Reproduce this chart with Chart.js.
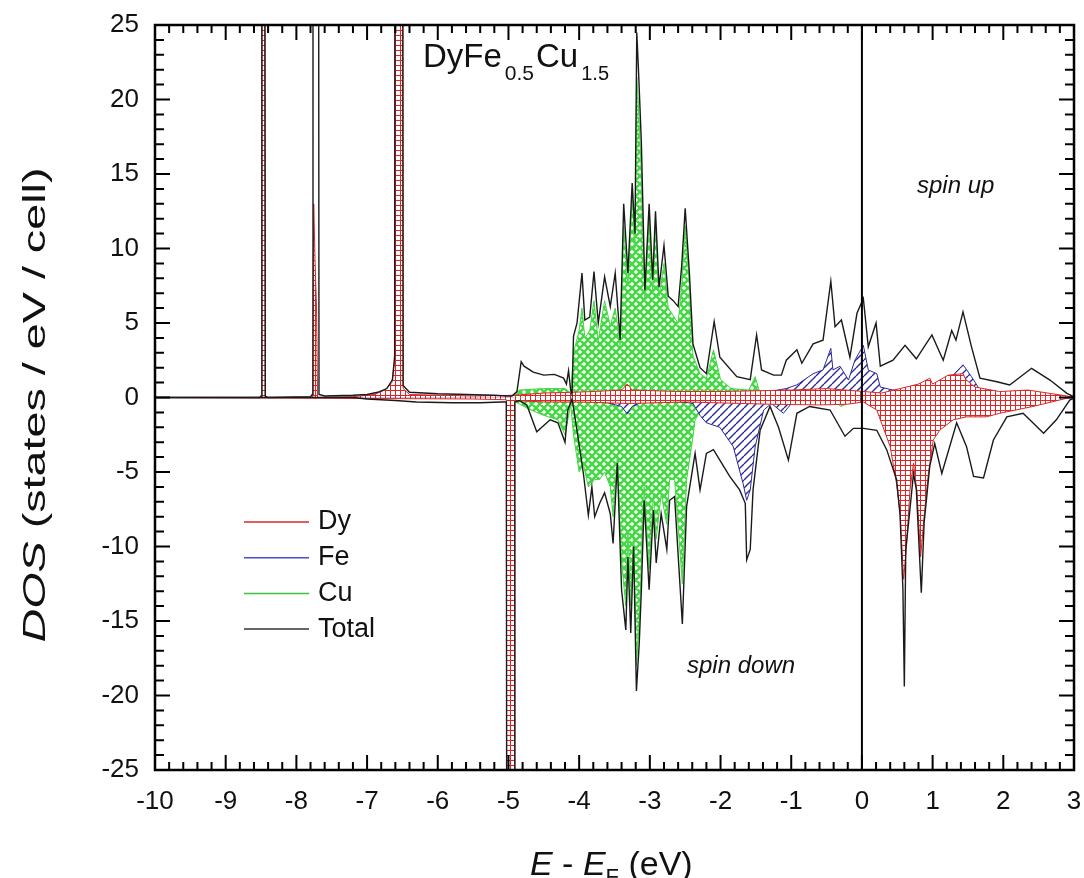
<!DOCTYPE html>
<html>
<head>
<meta charset="utf-8">
<title>DOS DyFe0.5Cu1.5</title>
<script src="https://cdn.jsdelivr.net/npm/chart.js@4.4.0/dist/chart.umd.min.js"></script>
<style>
  html, body { margin: 0; padding: 0; background: #fff; }
</style>
</head>
<body>
<canvas id="dosChart" width="1084" height="878"></canvas>
<script>
// axis ticks
const xTickValues = [-10, -9, -8, -7, -6, -5, -4, -3, -2, -1, 0, 1, 2, 3];
const yTickValues = [-25, -20, -15, -10, -5, 0, 5, 10, 15, 20, 25];

// [energy (eV), DOS]; spikes past the frame just run off the top/bottom
const totalUp = [
  [-10, 0], [-8.52, 0], [-8.50, 0.1], [-8.488, 60], [-8.452, 60], [-8.44, 0.1], [-8.40, 0],
  [-7.80, 0.05], [-7.775, 0.2], [-7.765, 60], [-7.69, 60], [-7.68, 0.2], [-7.6, 0.1],
  [-7.2, 0.15], [-7.0, 0.2], [-6.85, 0.35], [-6.72, 0.6], [-6.64, 1.2], [-6.61, 2.8], [-6.60, 60], [-6.50, 60],
  [-6.49, 0.8], [-6.4, 0.35], [-6.0, 0.25], [-5.6, 0.2], [-5.2, 0.15], [-5.03, 0.1], [-4.95, 0.1],
  [-4.88, 0.4], [-4.82, 2.4], [-4.78, 2.1], [-4.65, 1.7], [-4.5, 1.5], [-4.35, 1.55], [-4.22, 1.3],
  [-4.18, 0.9], [-4.15, 1.8], [-4.12, 0.5], [-4.10, 0.2],
  [-4.08, 4.1], [-4.03, 5.0], [-3.96, 8.35], [-3.92, 5.2], [-3.85, 5.4], [-3.79, 8.45], [-3.73, 5.0],
  [-3.64, 8.1], [-3.56, 6.1], [-3.49, 8.35], [-3.42, 3.86], [-3.37, 13.0], [-3.31, 8.35], [-3.25, 14.4],
  [-3.21, 11.0], [-3.185, 24.5], [-3.16, 21.9], [-3.12, 17.1], [-3.07, 7.2], [-3.01, 13.0], [-2.96, 7.9],
  [-2.92, 12.5], [-2.87, 7.4], [-2.80, 10.2], [-2.74, 6.8], [-2.67, 6.5], [-2.60, 6.1], [-2.55, 8.8],
  [-2.50, 12.7], [-2.44, 8.3], [-2.39, 3.6], [-2.29, 2.0], [-2.20, 1.6], [-2.09, 5.1], [-2.01, 2.7],
  [-1.77, 1.4], [-1.58, 1.2], [-1.49, 4.2], [-1.42, 1.85], [-1.25, 1.5], [-1.14, 1.5], [-1.07, 2.5],
  [-0.92, 3.2], [-0.85, 2.3], [-0.69, 3.6], [-0.55, 3.85], [-0.44, 7.8], [-0.38, 4.75], [-0.29, 5.2],
  [-0.17, 2.7], [-0.07, 5.65], [0.02, 6.65], [0.09, 3.4], [0.20, 5.0], [0.26, 2.1], [0.44, 2.5],
  [0.61, 3.5], [0.77, 2.6], [0.99, 4.2], [1.15, 2.5], [1.27, 4.5], [1.33, 3.85], [1.43, 5.75],
  [1.55, 3.4], [1.67, 1.3], [1.91, 1.06], [2.09, 0.84], [2.40, 1.96], [2.66, 1.17], [2.90, 0.28], [3.0, 0.05]
];
const totalDown = [
  [-10, 0], [-7.2, 0], [-7.0, -0.1], [-6.6, -0.2], [-6.3, -0.3], [-5.8, -0.35], [-5.4, -0.35], [-5.1, -0.3],
  [-5.03, -0.3], [-5.02, -60], [-4.92, -60], [-4.91, -0.3], [-4.85, -0.2], [-4.74, -0.5], [-4.6, -2.3],
  [-4.41, -1.5], [-4.3, -1.7], [-4.2, -3.0], [-4.16, -0.84], [-4.1, -0.1], [-4.01, -2.85], [-3.94, -5.1],
  [-3.87, -7.9], [-3.82, -6.0], [-3.78, -8.0], [-3.71, -7.1], [-3.64, -6.4], [-3.56, -7.8], [-3.52, -9.8],
  [-3.46, -4.4], [-3.40, -12.9], [-3.34, -15.6], [-3.31, -10.7], [-3.27, -15.8], [-3.23, -10.0],
  [-3.19, -19.7], [-3.15, -16.5], [-3.12, -12.9], [-3.08, -6.9], [-3.01, -12.9], [-2.95, -7.55],
  [-2.91, -11.1], [-2.84, -7.8], [-2.76, -10.2], [-2.72, -6.9], [-2.65, -6.65], [-2.54, -15.2],
  [-2.48, -7.3], [-2.36, -3.75], [-2.29, -6.2], [-2.2, -3.75], [-2.1, -3.5], [-2.01, -4.2], [-1.87, -5.3],
  [-1.73, -6.2], [-1.65, -7.1], [-1.63, -10.9], [-1.58, -10.2], [-1.54, -6.2], [-1.44, -2.2], [-1.30, -0.6],
  [-1.18, -2.0], [-1.04, -4.2], [-0.92, -1.06], [-0.74, -0.6], [-0.45, -0.84], [-0.24, -2.6], [-0.12, -2.07],
  [0.02, -2.07], [0.21, -2.2], [0.35, -3.5], [0.49, -5.5], [0.54, -7.9], [0.58, -12.9], [0.60, -19.4],
  [0.62, -10.2], [0.66, -8.4], [0.73, -5.1], [0.77, -6.2], [0.84, -13.1], [0.88, -8.4], [0.96, -4.6],
  [1.03, -3.1], [1.13, -5.1], [1.34, -1.7], [1.48, -3.3], [1.58, -5.3], [1.72, -5.4], [1.86, -2.85],
  [2.05, -1.3], [2.28, -1.06], [2.57, -2.4], [2.75, -1.5], [2.94, -0.17], [3.0, -0.05]
];
const dyUp = [
  [-10, 0], [-8.50, 0], [-8.488, 60], [-8.452, 60], [-8.44, 0], [-7.77, 0], [-7.755, 13], [-7.735, 9],
  [-7.715, 6], [-7.70, 0], [-7.2, 0.05], [-6.9, 0.2], [-6.75, 0.5], [-6.65, 1.0], [-6.61, 2.5], [-6.60, 60],
  [-6.50, 60], [-6.49, 0.6], [-6.4, 0.2], [-5.5, 0.1], [-4.9, 0.15], [-4.5, 0.3], [-4.1, 0.35], [-3.8, 0.4],
  [-3.4, 0.5], [-3.32, 0.9], [-3.25, 0.5], [-2.6, 0.4], [-2.0, 0.4], [-1.5, 0.45], [-1.0, 0.5], [-0.5, 0.6],
  [-0.1, 0.45], [0.28, 0.3], [0.54, 0.6], [0.80, 0.9], [0.96, 1.3], [1.0, 0.9], [1.22, 1.5], [1.43, 1.6],
  [1.47, 1.2], [1.6, 0.7], [1.95, 0.4], [2.35, 0.5], [2.9, 0.1], [3.0, 0]
];
const dyDown = [
  [-10, 0], [-5.5, -0.1], [-5.03, -0.15], [-5.02, -60], [-4.92, -60], [-4.91, -0.2], [-4.5, -0.3],
  [-4.0, -0.3], [-3.3, -0.4], [-2.5, -0.3], [-1.3, -0.45], [-0.6, -0.5], [-0.2, -0.45], [0.02, -0.3],
  [0.21, -0.84], [0.40, -3.3], [0.49, -5.8], [0.54, -7.8], [0.59, -12.2], [0.63, -10.0], [0.68, -6.2],
  [0.73, -4.4], [0.78, -6.4], [0.83, -10.7], [0.88, -8.0], [0.94, -5.1], [1.01, -2.85], [1.10, -2.2],
  [1.29, -1.5], [1.48, -1.3], [1.76, -1.3], [1.95, -1.06], [2.42, -0.6], [2.90, -0.05], [3.0, 0]
];
const feUp = [
  [-10, 0], [-5, 0], [-4.8, 0.1], [-4.1, 0.15], [-3.5, 0.3], [-3.3, 0.5], [-3.1, 0.3], [-2.5, 0.25],
  [-2.0, 0.3], [-1.5, 0.35], [-1.3, 0.4], [-1.07, 0.6], [-0.92, 0.85], [-0.69, 1.6], [-0.55, 1.85],
  [-0.44, 3.3], [-0.41, 1.85], [-0.31, 2.1], [-0.19, 1.17], [-0.10, 2.5], [0.02, 3.5], [0.09, 1.85],
  [0.21, 1.6], [0.26, 0.7], [0.44, 0.5], [0.8, 0.4], [1.1, 0.6], [1.29, 1.5], [1.43, 2.2], [1.55, 1.4],
  [1.67, 0.5], [2.0, 0.2], [3.0, 0.05]
];
const feDown = [
  [-10, 0], [-5, 0], [-4.8, -0.1], [-4.1, -0.2], [-3.6, -0.35], [-3.4, -0.6], [-3.32, -1.1], [-3.25, -0.6],
  [-3.1, -0.3], [-2.6, -0.3], [-2.45, -0.35], [-2.39, -0.4], [-2.29, -1.2], [-2.2, -1.7], [-2.01, -2.0],
  [-1.82, -3.3], [-1.68, -5.8], [-1.63, -6.9], [-1.58, -6.2], [-1.51, -3.3], [-1.39, -0.84], [-1.28, -0.4],
  [-1.11, -1.06], [-0.98, -0.3], [-0.5, -0.2], [0, -0.15], [1, -0.1], [3, 0]
];
const cuUp = [
  [-10, 0], [-7, 0], [-6.6, 0.05], [-5, 0.05], [-4.9, 0.2], [-4.85, 0.5], [-4.5, 0.6], [-4.2, 0.6],
  [-4.12, 0.3], [-4.08, 3.0], [-4.0, 4.5], [-3.96, 6.0], [-3.92, 4.0], [-3.85, 4.5], [-3.79, 6.5],
  [-3.73, 3.8], [-3.64, 6.5], [-3.56, 4.8], [-3.49, 6.0], [-3.42, 3.5], [-3.37, 11.5], [-3.31, 7.5],
  [-3.25, 13.5], [-3.21, 10], [-3.185, 21.5], [-3.16, 19.5], [-3.12, 15], [-3.07, 6.5], [-3.01, 12],
  [-2.96, 7.0], [-2.92, 11.5], [-2.87, 6.8], [-2.80, 9.0], [-2.74, 6.0], [-2.67, 5.5], [-2.60, 5.0],
  [-2.55, 7.5], [-2.50, 11.5], [-2.44, 7.5], [-2.39, 2.8], [-2.29, 1.6], [-2.2, 1.3], [-2.1, 3.2],
  [-2.0, 1.2], [-1.85, 0.6], [-1.6, 0.5], [-1.51, 1.4], [-1.45, 0.4], [-1.3, 0.2], [-1.0, 0.1], [0, 0.05], [3, 0]
];
const cuDown = [
  [-10, 0], [-7, 0], [-6.6, -0.05], [-5, -0.05], [-4.9, -0.3], [-4.7, -0.8], [-4.5, -1.2], [-4.3, -1.5],
  [-4.2, -2.5], [-4.12, -0.5], [-4.08, -2.5], [-4.0, -5], [-3.94, -4.5], [-3.87, -6], [-3.78, -5.5],
  [-3.71, -5.5], [-3.64, -5], [-3.56, -6], [-3.52, -8], [-3.46, -4], [-3.40, -11], [-3.34, -14],
  [-3.31, -9], [-3.27, -14], [-3.23, -9], [-3.19, -18], [-3.15, -15], [-3.12, -11], [-3.08, -6],
  [-3.01, -11.5], [-2.95, -6.5], [-2.91, -9.5], [-2.84, -6.5], [-2.76, -8.5], [-2.72, -5.5], [-2.65, -5.5],
  [-2.54, -12.5], [-2.48, -5.5], [-2.40, -3], [-2.36, -1.5], [-2.27, -0.8], [-2.1, -0.3], [-1.0, -0.1],
  [-0.4, -0.15], [-0.3, -0.6], [-0.15, -0.3], [0, -0.05], [3, 0]
];
const fermiLine = [[0, -25], [0, 25]];

const legendLabels = ['Dy', 'Fe', 'Cu', 'Total'];
const legendColors = ['#d42a2a', '#4b4bd0', '#3cc43c', '#333333'];

const FONT = '"Liberation Sans", Arial, sans-serif';

// hatch fills
function makePattern(kind) {
  const s = kind === 'dy' ? 5 : 8;
  const c = document.createElement('canvas');
  c.width = s; c.height = s;
  const g = c.getContext('2d');
  g.fillStyle = '#fff';
  g.fillRect(0, 0, s, s);
  if (kind === 'dy') {
    g.fillStyle = '#e02424';
    g.fillRect(0, 0, s, 1);
    g.fillRect(0, 0, 1, s);
  } else {
    g.strokeStyle = kind === 'fe' ? '#2a2a9c' : '#44d844';
    g.lineWidth = kind === 'fe' ? 1.4 : 2.6;
    g.beginPath();
    for (const off of [-s, 0, s]) {
      g.moveTo(off, s); g.lineTo(off + s, 0);          // "/"
      if (kind === 'cu') { g.moveTo(off, 0); g.lineTo(off + s, s); } // "\"
    }
    g.stroke();
  }
  return g.createPattern(c, 'repeat');
}

const toXY = arr => arr.map(p => ({ x: p[0], y: p[1] }));

function lineSet(label, data, color, width, order, fill) {
  return {
    label, data: toXY(data), borderColor: color, borderWidth: width,
    backgroundColor: fill || 'transparent', fill: fill ? 'origin' : false,
    pointRadius: 0, tension: 0, order
  };
}

// inward ticks, frame, legend and text
const decorations = {
  id: 'decorations',
  afterDatasetsDraw(chart) {
    const { ctx, chartArea: a, scales: { x, y } } = chart;
    ctx.save();
    ctx.strokeStyle = '#000';
    ctx.lineWidth = 2;
    ctx.beginPath();
    for (let i = 0; i <= 65; i++) {
      const px = x.getPixelForValue(-10 + i * 0.2);
      const len = i % 5 === 0 ? 15 : 8;
      ctx.moveTo(px, a.bottom); ctx.lineTo(px, a.bottom - len);
      ctx.moveTo(px, a.top); ctx.lineTo(px, a.top + len);
    }
    for (let i = 0; i <= 50; i++) {
      const py = y.getPixelForValue(-25 + i);
      const len = i % 5 === 0 ? 15 : 9;
      ctx.moveTo(a.left, py); ctx.lineTo(a.left + len, py);
      ctx.moveTo(a.right, py); ctx.lineTo(a.right - len, py);
    }
    ctx.stroke();
    ctx.lineWidth = 2.5;
    ctx.strokeRect(a.left, a.top, a.right - a.left, a.bottom - a.top);

    // legend
    ctx.font = '27px ' + FONT;
    ctx.textBaseline = 'middle';
    ctx.fillStyle = '#111';
    legendLabels.forEach((lab, i) => {
      const ly = 522 + i * 35.7;
      ctx.strokeStyle = legendColors[i];
      ctx.lineWidth = 1.5;
      ctx.beginPath(); ctx.moveTo(244, ly); ctx.lineTo(309, ly); ctx.stroke();
      ctx.fillText(lab, 318, ly);
    });

    // compound name
    ctx.textBaseline = 'alphabetic';
    let tx = 423;
    const parts = [['DyFe', 33, 0], ['0.5', 21, 13], ['Cu', 33, 0], ['1.5', 20, 13]];
    parts.forEach(([t, sz, dy]) => {
      ctx.font = sz + 'px ' + FONT;
      ctx.fillText(t, tx, 67 + dy);
      tx += ctx.measureText(t).width + (dy ? 2 : 3);
    });

    ctx.font = 'italic 24px ' + FONT;
    ctx.fillText('spin up', 917, 193);
    ctx.fillText('spin down', 687, 673);

    // x title
    let xx = 530;
    const xParts = [['E', 'italic 34px ', 0], [' - ', '34px ', 0], ['E', 'italic 34px ', 0], ['F', '22px ', 9], [' (eV)', '34px ', 0]];
    xParts.forEach(([t, f, dy]) => {
      ctx.font = f + FONT;
      ctx.fillText(t, xx, 875 + dy);
      xx += ctx.measureText(t).width;
    });

    // y title, stretched along its length like the original
    ctx.translate(45, 405);
    ctx.rotate(-Math.PI / 2);
    ctx.font = 'italic 31px ' + FONT;
    const w1 = ctx.measureText('DOS').width;
    ctx.font = '31px ' + FONT;
    const rest = ' (states / eV / cell)';
    const w2 = ctx.measureText(rest).width;
    const k = 475 / (w1 + w2);
    ctx.scale(k, 1);
    ctx.font = 'italic 31px ' + FONT;
    ctx.fillText('DOS', -(w1 + w2) / 2, 0);
    ctx.font = '31px ' + FONT;
    ctx.fillText(rest, -(w1 + w2) / 2 + w1, 0);
    ctx.restore();
  }
};

const pDy = makePattern('dy');
const pFe = makePattern('fe');
const pCu = makePattern('cu');

new Chart(document.getElementById('dosChart'), {
  type: 'line',
  data: {
    datasets: [
      lineSet('EF', fermiLine, '#000', 2, 0),
      lineSet('Total up', totalUp, '#1a1a1a', 1.4, 1),
      lineSet('Total down', totalDown, '#1a1a1a', 1.4, 1),
      lineSet('Dy up', dyUp, '#d42a2a', 1, 2, pDy),
      lineSet('Dy down', dyDown, '#d42a2a', 1, 2, pDy),
      lineSet('Fe up', feUp, '#2a2a9c', 1, 3, pFe),
      lineSet('Fe down', feDown, '#2a2a9c', 1, 3, pFe),
      lineSet('Cu up', cuUp, '#44d844', 1, 4, pCu),
      lineSet('Cu down', cuDown, '#44d844', 1, 4, pCu)
    ]
  },
  options: {
    responsive: false,
    animation: false,
    layout: { padding: { left: 0, top: 25, right: 10, bottom: 0 } },
    plugins: { legend: { display: false }, tooltip: { enabled: false } },
    scales: {
      x: {
        type: 'linear', min: -10, max: 3,
        afterBuildTicks: s => { s.ticks = xTickValues.map(v => ({ value: v })); },
        afterFit: s => { s.height = 108; s.paddingLeft = 0; s.paddingRight = 0; },
        grid: { display: false, drawTicks: false },
        border: { display: false },
        ticks: { font: { family: FONT, size: 26 }, color: '#111', padding: 16, maxRotation: 0 }
      },
      y: {
        type: 'linear', min: -25, max: 25,
        afterBuildTicks: s => { s.ticks = yTickValues.map(v => ({ value: v })); },
        afterFit: s => { s.width = 155; s.paddingTop = 0; s.paddingBottom = 0; },
        grid: { display: false, drawTicks: false },
        border: { display: false },
        ticks: { font: { family: FONT, size: 26 }, color: '#111', padding: 16 }
      }
    }
  },
  plugins: [decorations]
});
</script>
</body>
</html>
